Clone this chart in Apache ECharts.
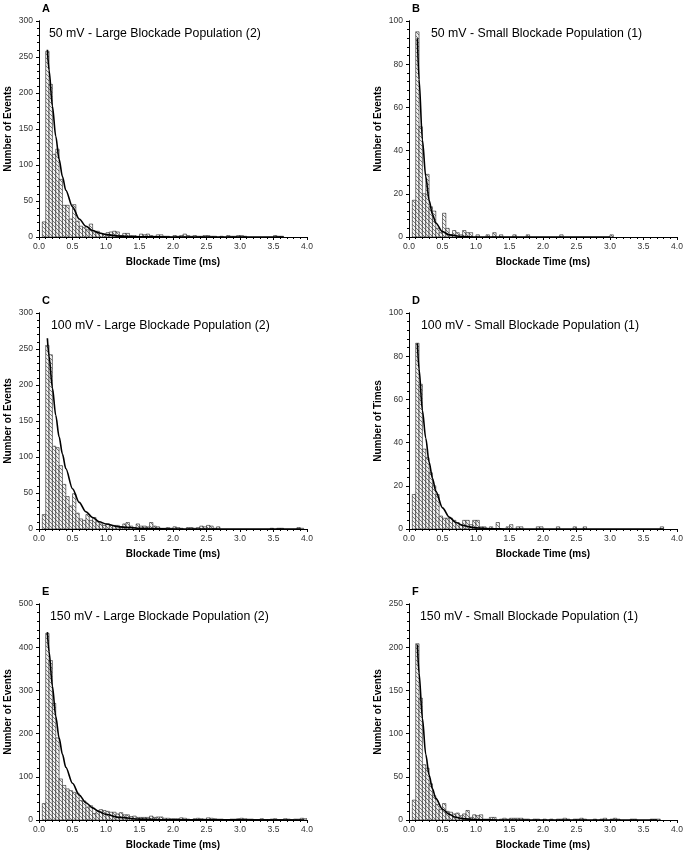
<!DOCTYPE html>
<html><head><meta charset="utf-8">
<script src="https://cdn.jsdelivr.net/npm/echarts@6/dist/echarts.min.js"></script>
<style>html,body{margin:0;padding:0;background:#fff}#c{width:686px;height:856px}</style>
</head><body><div id="c"></div><script>
// Bin left edges (ms), bin width 0.05 ms
const BIN_W = 0.05;
const BINS = [0.05,0.10,0.15,0.20,0.25,0.30,0.35,0.40,0.45,0.50,
  0.55,0.60,0.65,0.70,0.75,0.80,0.85,0.90,0.95,1.00,
  1.05,1.10,1.15,1.20,1.25,1.30,1.35,1.40,1.45,1.50,
  1.55,1.60,1.65,1.70,1.75,1.80,1.85,1.90,1.95,2.00,
  2.05,2.10,2.15,2.20,2.25,2.30,2.35,2.40,2.45,2.50,
  2.55,2.60,2.65,2.70,2.75,2.80,2.85,2.90,2.95,3.00,
  3.05,3.10,3.15,3.20,3.25,3.30,3.35,3.40,3.45,3.50,
  3.55,3.60,3.65,3.70,3.75,3.80,3.85,3.90,3.95];
const X_TICKS = [0.0,0.5,1.0,1.5,2.0,2.5,3.0,3.5,4.0];

// A: 50 mV large
const A_counts = [21,258,212,115,122,80,44,44,25,45,
  22,15,13,10,18,7,8,5,4,6,
  7,8,7,2,5,5,2,2,1,4,
  3,4,2,1,3,3,1,1,0,2,
  1,2,4,2,1,2,1,1,2,2,
  1,1,0,1,0,2,1,1,2,2,
  1,0,0,0,0,0,0,0,0,2,
  1,1,0,0,0,0,0,0,0];
const A_fitX = [0.125,0.15,0.2,0.25,0.3,0.35,0.4,0.5,0.6,0.7,0.8,0.9,1.0,1.2,1.5,2.0,3.65];
const A_fitY = [260,232,182,140,108,84,65,42,25,15,9,5.5,3.3,1.2,0.3,0,0];

// B: 50 mV small
const B_counts = [17,95,51,20,29,14,12,4,2,11,
  4,1,3,2,1,3,2,2,0,1,
  0,0,1,0,2,0,1,0,0,0,
  1,0,0,0,1,0,0,0,0,0,
  0,0,0,0,1,0,0,0,0,0,
  0,0,0,0,0,0,0,0,0,1,
  0,0,0,0,0,0,0,0,0,0,
  0,0,0,0,0,0,0,0,0];
const B_fitX = [0.125,0.15,0.2,0.25,0.3,0.35,0.4,0.5,0.6,0.8,1.0,3.0];
const B_fitY = [92,73,45,28,17,10.5,6.5,2.5,1,0.2,0,0];

// C: 100 mV large
const C_counts = [20,255,242,115,113,88,62,45,32,49,
  22,14,12,20,12,16,10,7,5,7,
  5,5,5,3,7,9,4,2,7,4,
  4,3,9,4,3,1,1,2,1,3,
  2,1,0,2,2,1,2,4,3,5,
  4,1,3,0,0,0,0,0,0,0,
  0,0,0,0,0,0,0,0,1,0,
  1,1,0,0,0,0,2,1,0];
const C_fitX = [0.125,0.15,0.2,0.25,0.3,0.35,0.4,0.5,0.6,0.7,0.8,0.9,1.0,1.2,1.5,2.0,3.9];
const C_fitY = [265,240,196,158,128,104,84,56,37,24,16,10,7,3,1,0.1,0];

// D: 100 mV small
const D_counts = [16,86,67,37,33,26,20,16,6,5,
  5,5,4,3,2,4,4,2,4,4,
  1,1,0,1,0,3,0,0,1,2,
  0,1,1,0,0,0,0,1,1,0,
  0,0,0,1,0,0,0,0,1,0,
  0,1,0,0,0,0,0,0,0,0,
  0,0,0,0,0,0,0,0,0,0,
  0,0,0,0,1,0,0,0,0];
const D_fitX = [0.125,0.15,0.2,0.25,0.3,0.35,0.4,0.5,0.6,0.7,0.8,0.9,1.0,1.2,1.5,3.8];
const D_fitY = [86,74,55,42,31,23.5,17.5,9.8,5.5,3,1.7,1,0.5,0.15,0,0];

// E: 150 mV large
const E_counts = [38,432,369,270,190,95,80,72,68,64,
  62,45,44,30,33,15,22,24,22,20,
  18,18,14,17,12,12,8,9,6,6,
  6,6,9,6,7,7,4,4,3,3,
  3,5,4,2,1,3,4,3,2,5,
  4,3,2,2,1,1,2,2,3,4,
  3,2,2,1,1,3,1,1,2,3,
  1,1,3,2,1,2,2,4,3];
const E_fitX = [0.125,0.15,0.2,0.25,0.3,0.35,0.4,0.5,0.6,0.7,0.8,0.9,1.0,1.2,1.5,2.0,3.95];
const E_fitY = [435,390,310,240,190,152,122,85,58,40,28,19,13,6,2,0.3,0];

// F: 150 mV small
const F_counts = [23,204,141,64,60,42,28,18,12,19,
  10,9,7,8,5,7,11,3,6,5,
  6,1,1,3,3,0,1,2,1,2,
  2,2,2,1,1,0,1,1,0,1,
  0,1,0,1,1,2,1,0,1,1,
  2,1,0,0,1,0,1,2,0,1,
  2,1,0,0,0,1,1,0,0,0,
  0,1,1,1,0,0,0,0,0];
const F_fitX = [0.125,0.15,0.2,0.25,0.3,0.35,0.4,0.5,0.6,0.7,0.8,1.0,1.2,1.5,3.7];
const F_fitY = [203,170,118,76,52,36,25,12.5,6.5,3.2,1.6,0.4,0.1,0,0];

const PANELS = [
  {letter:'A', title:'50 mV - Large Blockade Population (2)', yName:'Number of Events', yMax:300, yInt:50, counts:A_counts, fx:A_fitX, fy:A_fitY},
  {letter:'B', title:'50 mV - Small Blockade Population (1)', yName:'Number of Events', yMax:100, yInt:20, counts:B_counts, fx:B_fitX, fy:B_fitY},
  {letter:'C', title:'100 mV - Large Blockade Population (2)', yName:'Number of Events', yMax:300, yInt:50, counts:C_counts, fx:C_fitX, fy:C_fitY},
  {letter:'D', title:'100 mV - Small Blockade Population (1)', yName:'Number of Times', yMax:100, yInt:20, counts:D_counts, fx:D_fitX, fy:D_fitY},
  {letter:'E', title:'150 mV - Large Blockade Population (2)', yName:'Number of Events', yMax:500, yInt:100, counts:E_counts, fx:E_fitX, fy:E_fitY},
  {letter:'F', title:'150 mV - Small Blockade Population (1)', yName:'Number of Events', yMax:250, yInt:50, counts:F_counts, fx:F_fitX, fy:F_fitY}
];

// layout
const LEFTS = [39, 409];
const TOPS = [21, 313, 604];
const TITLE_DX = [10, 22, 12, 12, 11, 11];
const GW = 268, GH = 216;
const FONT = '"Liberation Sans", Arial, sans-serif';

// hatch pattern
const pc = document.createElement('canvas'); pc.width = 4; pc.height = 4;
const g = pc.getContext('2d');
g.fillStyle = '#f4f4f4'; g.fillRect(0,0,4,4);
g.strokeStyle = '#5a5a5a'; g.lineWidth = 0.8;
g.beginPath();
g.moveTo(0,0); g.lineTo(4,4);
g.moveTo(-1,3); g.lineTo(1,5);
g.moveTo(3,-1); g.lineTo(5,1);
g.stroke();
const HATCH = {image: pc, repeat: 'repeat'};

const option = {
  backgroundColor: '#fff',
  animation: false,
  grid: [], xAxis: [], yAxis: [], series: [], title: []
};

PANELS.forEach(function(p, i){
  const left = LEFTS[i % 2], top = TOPS[Math.floor(i / 2)];
  option.grid.push({left: left, top: top, width: GW, height: GH, containLabel: false});
  const xb = option.xAxis.length;
  const yb = option.yAxis.length;
  const axisLine = {show: true, lineStyle: {color: '#000', width: 1}};
  // bottom x
  option.xAxis.push({
    type: 'value', gridIndex: i, min: 0, max: 4, interval: 0.5, position: 'bottom',
    name: 'Blockade Time (ms)', nameLocation: 'middle', nameGap: 20,
    nameTextStyle: {fontFamily: FONT, fontSize: 10, fontWeight: 'bold', color: '#000'},
    axisLine: axisLine,
    axisTick: {show: true, inside: false, length: 3, lineStyle: {color: '#000'}},
    minorTick: {show: true, splitNumber: 5, length: 2, lineStyle: {color: '#000'}},
    axisLabel: {fontFamily: FONT, fontSize: 8.5, color: '#333', margin: 5,
      formatter: function(v){ return X_TICKS.indexOf(v) >= 0 ? v.toFixed(1) : ''; }},
    splitLine: {show: false}
  });
  // top x (frame)
  option.xAxis.push({
    type: 'value', gridIndex: i, min: 0, max: 4, interval: 0.5, position: 'top',
    axisLine: axisLine,
    axisTick: {show: true, inside: true, length: 3, lineStyle: {color: '#000'}},
    minorTick: {show: true, splitNumber: 5, length: 2, lineStyle: {color: '#000'}},
    axisLabel: {show: false}, splitLine: {show: false}
  });
  // left y
  option.yAxis.push({
    type: 'value', gridIndex: i, min: 0, max: p.yMax, interval: p.yInt, position: 'left',
    name: p.yName, nameLocation: 'middle', nameGap: 26, nameRotate: 90,
    nameTextStyle: {fontFamily: FONT, fontSize: 10, fontWeight: 'bold', color: '#000'},
    axisLine: axisLine,
    axisTick: {show: true, inside: false, length: 3, lineStyle: {color: '#000'}},
    minorTick: {show: true, splitNumber: 5, length: 2, lineStyle: {color: '#000'}},
    axisLabel: {fontFamily: FONT, fontSize: 8.5, color: '#333', margin: 6},
    splitLine: {show: false}
  });
  // right y (frame)
  option.yAxis.push({
    type: 'value', gridIndex: i, min: 0, max: p.yMax, interval: p.yInt, position: 'right',
    axisLine: axisLine,
    axisTick: {show: true, inside: true, length: 3, lineStyle: {color: '#000'}},
    minorTick: {show: true, splitNumber: 5, length: 2, lineStyle: {color: '#000'}},
    axisLabel: {show: false}, splitLine: {show: false}
  });

  const barData = [];
  BINS.forEach(function(b, k){ if (p.counts[k] > 0) barData.push([b, p.counts[k]]); });
  option.series.push({
    type: 'custom', xAxisIndex: xb, yAxisIndex: yb, data: barData,
    encode: {x: 0, y: 1}, clip: true, z: 2,
    renderItem: function(params, api){
      const x0 = api.value(0), v = api.value(1);
      const p0 = api.coord([x0, v]);
      const p1 = api.coord([x0 + BIN_W, 0]);
      return {type: 'rect',
        shape: {x: p0[0], y: p0[1], width: p1[0] - p0[0], height: p1[1] - p0[1]},
        style: {fill: HATCH, stroke: '#222', lineWidth: 0.6}};
    }
  });
  option.series.push({
    type: 'line', xAxisIndex: xb, yAxisIndex: yb, z: 3,
    data: p.fx.map(function(x, k){ return [x, p.fy[k]]; }),
    showSymbol: false, smooth: 0.3, smoothMonotone: 'x',
    lineStyle: {color: '#000', width: 1.6}
  });

  option.title.push({text: p.letter, left: left + 3, top: top - 18, padding: 0,
    textStyle: {fontFamily: FONT, fontSize: 11, fontWeight: 'bold', color: '#000'}});
  option.title.push({text: p.title, left: left + TITLE_DX[i], top: top + 7, padding: 0,
    textStyle: {fontFamily: FONT, fontSize: 12.3, fontWeight: 'normal', color: '#000'}});
});

const chart = echarts.init(document.getElementById('c'), null, {renderer: 'canvas'});
chart.setOption(option);
</script></body></html>
